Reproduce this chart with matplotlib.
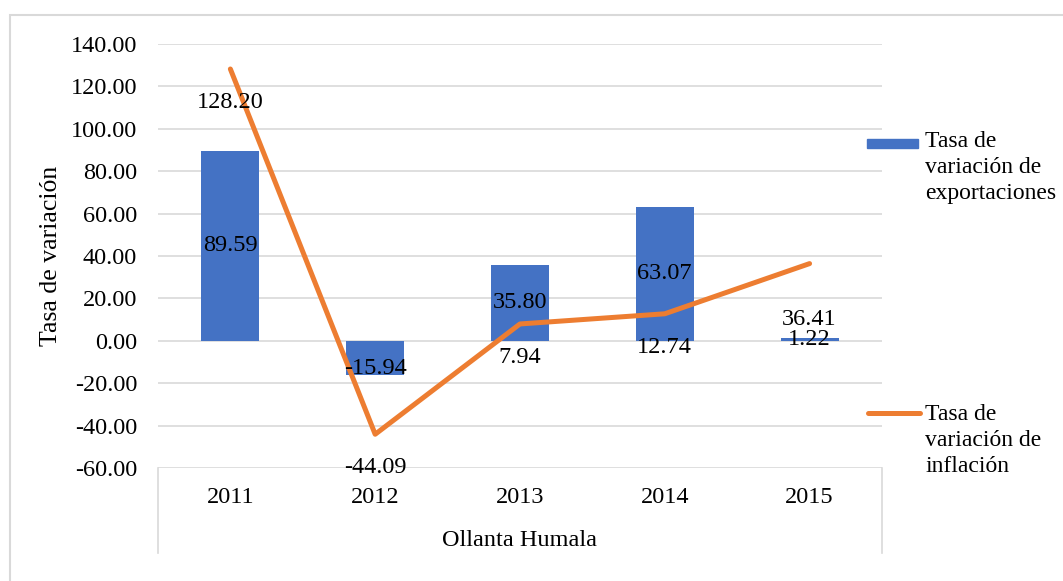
import matplotlib.pyplot as plt
from matplotlib.patches import Rectangle
from matplotlib.lines import Line2D

plt.rcParams["font.family"] = ["Liberation Serif", "DejaVu Serif"]

# données
anios = ["2011", "2012", "2013", "2014", "2015"]
exportaciones = [89.59, -15.94, 35.80, 63.07, 1.22]
inflacion = [128.20, -44.09, 7.94, 12.74, 36.41]
grupo = "Ollanta Humala"

AZUL = "#4472C4"
NARANJA = "#ED7D31"
GRIS = "#D9D9D9"
FS = 17.5

fig = plt.figure(figsize=(10.63, 5.81), dpi=100)
ax = fig.add_axes([0.1486, 0.1945, 0.6811, 0.7298])

x = list(range(len(anios)))
ax.bar(x, exportaciones, width=0.4, color=AZUL, zorder=2)
ax.plot(x, inflacion, color=NARANJA, linewidth=3.6, solid_capstyle="round", zorder=3)

ax.set_xlim(-0.5, len(anios) - 0.5)
ax.set_ylim(-60, 140)
ax.set_yticks(range(-60, 141, 20))
ax.set_yticklabels([f"{v:.2f}" for v in range(-60, 141, 20)], fontsize=FS)
ax.set_xticks(x)
ax.set_xticklabels(anios, fontsize=FS)
ax.tick_params(length=0)
ax.tick_params(axis="y", pad=15)
ax.tick_params(axis="x", pad=14)
ax.grid(axis="y", color=GRIS, linewidth=1.2, zorder=0)
for s in ax.spines.values():
    s.set_visible(False)
ax.set_ylabel("Tasa de variación", fontsize=18.5, labelpad=6)

# étiquettes des barres (au centre)
for i, v in enumerate(exportaciones):
    ax.text(i, v / 2 - (5 if v < -5 else 0), f"{v:.2f}", ha="center", va="center",
            fontsize=FS, zorder=4)

# étiquettes de la ligne (en dessous)
for i, v in enumerate(inflacion):
    dy = -24 if i < 4 else -40
    ax.annotate(f"{v:.2f}", (i, v), xytext=(0, dy), textcoords="offset points",
                ha="center", va="center", fontsize=FS, zorder=4)

# axe de catégories à deux niveaux
for xa in (0, 1):
    ax.add_line(Line2D([xa, xa], [0, -0.2], transform=ax.transAxes,
                       color=GRIS, linewidth=1.2, clip_on=False))
ax.text(0.5, -0.172, grupo, transform=ax.transAxes, ha="center", va="center",
        fontsize=FS)

# légende manuelle
fig.add_artist(Rectangle((867 / 1063, 1 - 148 / 581), 51 / 1063, 9 / 581,
                         transform=fig.transFigure, color=AZUL))
fig.text(925 / 1063, 1 - 131 / 581, "Tasa de\nvariación de\nexportaciones",
         ha="left", va="top", fontsize=17, linespacing=1.3)
fig.add_artist(Line2D([868 / 1063, 920 / 1063], [1 - 413 / 581, 1 - 413 / 581],
                      transform=fig.transFigure, color=NARANJA, linewidth=3.6,
                      solid_capstyle="round"))
fig.text(925 / 1063, 1 - 404 / 581, "Tasa de\nvariación de\ninflación",
         ha="left", va="top", fontsize=17, linespacing=1.3)

# cadre extérieur
fig.add_artist(Rectangle((10 / 1063, -0.05), 1.2, 1 - 15 / 581 + 0.05,
                         transform=fig.transFigure, fill=False,
                         edgecolor=GRIS, linewidth=1.5))

fig.savefig("out.png", dpi=100)
